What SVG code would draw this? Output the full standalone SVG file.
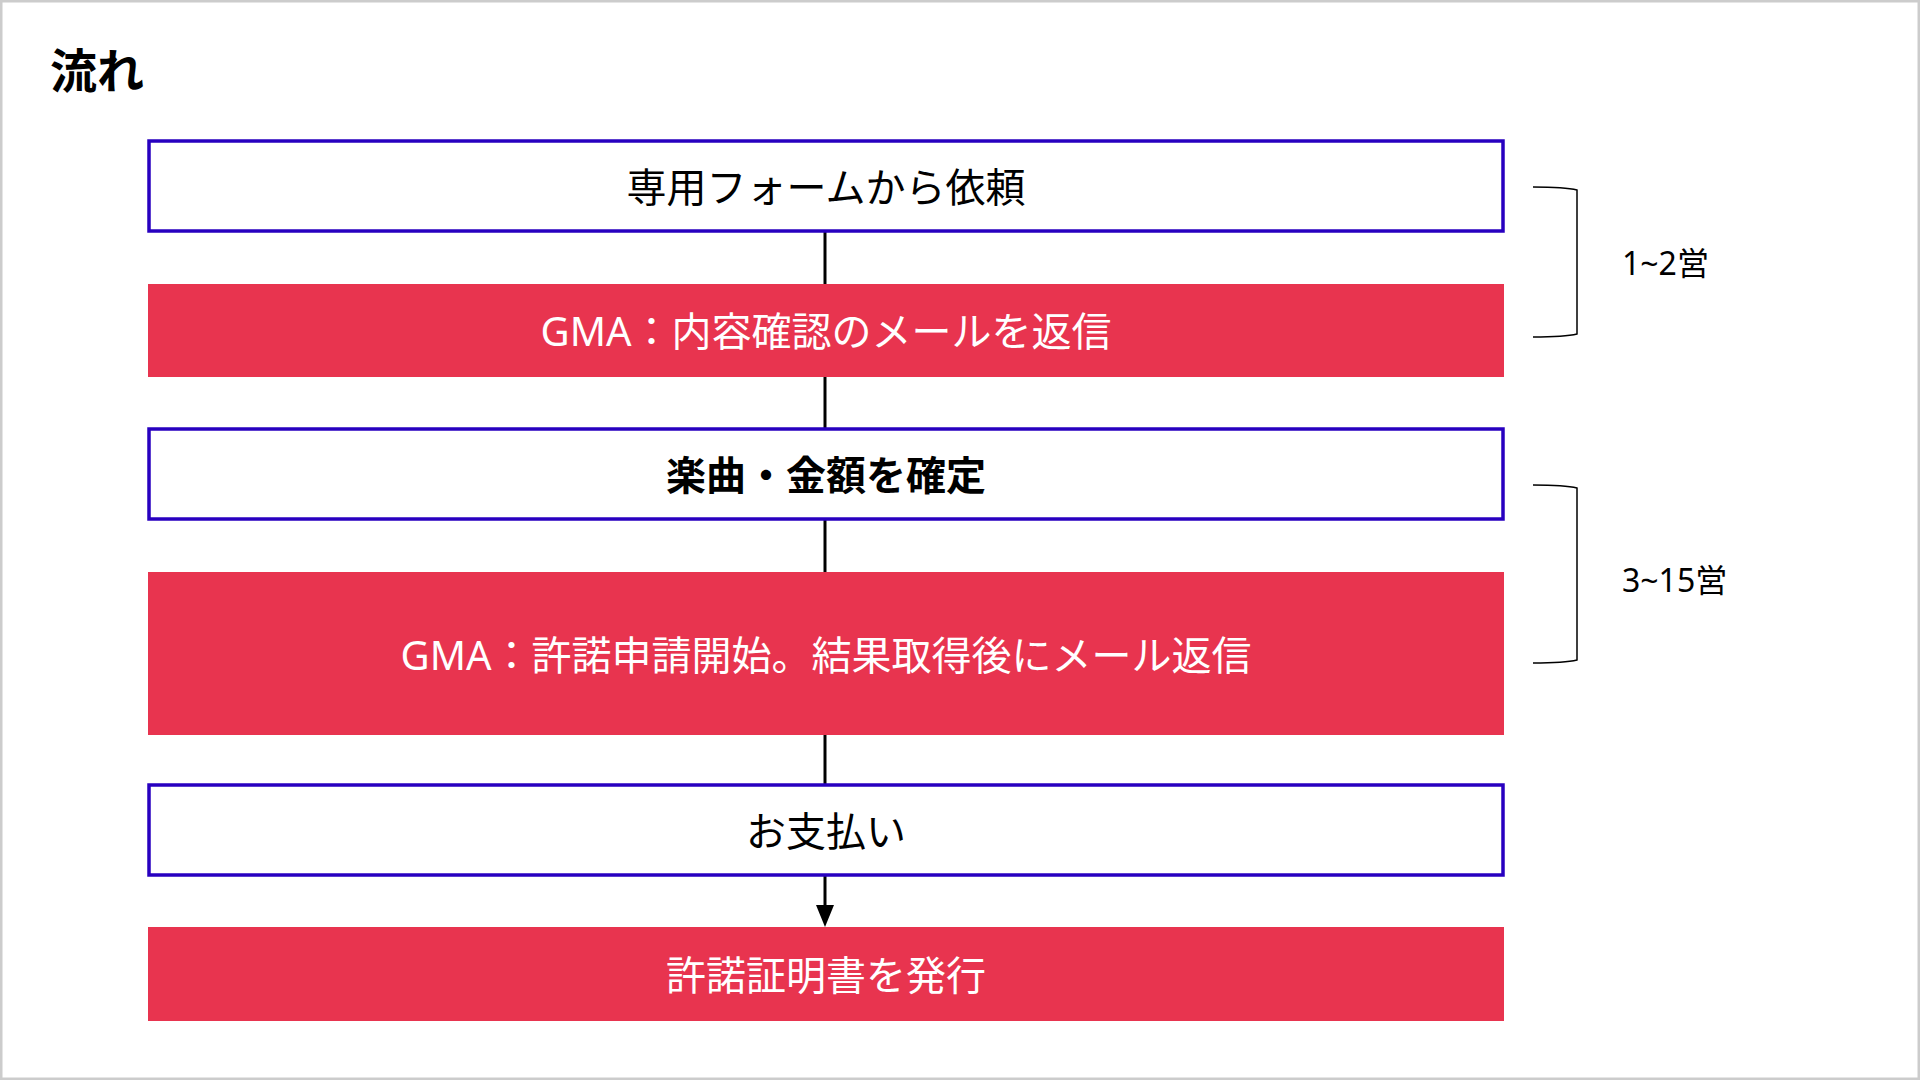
<svg xmlns="http://www.w3.org/2000/svg" width="1920" height="1080" viewBox="0 0 1920 1080">
<style>
  text { font-family: "Noto Sans", "Noto Sans CJK JP", sans-serif; }
  .wbox { fill: #ffffff; stroke: #2800C0; stroke-width: 3.5; }
  .rbox { fill: #E8344F; }
  .dk { fill: #000000; font-size: 40px; text-anchor: middle; }
  .wt { fill: #ffffff; font-size: 40px; text-anchor: middle; }
  .conn { stroke: #000000; stroke-width: 3; fill: none; }
  .brace { stroke: #000000; stroke-width: 1.5; fill: none; }
  .lbl { fill: #000000; font-size: 32px; }
</style>
<rect x="1" y="1" width="1918" height="1078" fill="#ffffff" stroke="#cccccc" stroke-width="3"/>
<text x="50" y="88" font-size="47" font-weight="bold" fill="#000000">流れ</text>

<g id="connectors">
  <line class="conn" x1="825" y1="232" x2="825" y2="284"/>
  <line class="conn" x1="825" y1="376" x2="825" y2="429"/>
  <line class="conn" x1="825" y1="519" x2="825" y2="572"/>
  <line class="conn" x1="825" y1="735" x2="825" y2="785"/>
  <line class="conn" x1="825" y1="875" x2="825" y2="906"/>
  <path d="M816,905 L834,905 L825,927 Z" fill="#000000"/>
</g>

<g id="node1">
  <rect class="wbox" x="149" y="141" width="1354" height="90"/>
  <text class="dk" x="826" y="202">専用フォームから依頼</text>
</g>
<g id="node2">
  <rect class="rbox" x="148" y="284" width="1356" height="93"/>
  <text class="wt" x="826" y="346">GMA：内容確認のメールを返信</text>
</g>
<g id="node3">
  <rect class="wbox" x="149" y="429" width="1354" height="90"/>
  <text class="dk" x="826" y="490" font-weight="bold">楽曲・金額を確定</text>
</g>
<g id="node4">
  <rect class="rbox" x="148" y="572" width="1356" height="163"/>
  <text class="wt" x="826" y="670">GMA：許諾申請開始。結果取得後にメール返信</text>
</g>
<g id="node5">
  <rect class="wbox" x="149" y="785" width="1354" height="90"/>
  <text class="dk" x="826" y="846">お支払い</text>
</g>
<g id="node6">
  <rect class="rbox" x="148" y="927" width="1356" height="94"/>
  <text class="wt" x="826" y="990">許諾証明書を発行</text>
</g>

<g id="bracket1">
  <path class="brace" d="M1533,187 Q1565,187 1577,190 L1577,334 Q1565,337 1533,337"/>
  <text class="lbl" x="1622" y="275">1~2営</text>
</g>
<g id="bracket2">
  <path class="brace" d="M1533,485 Q1565,485 1577,488 L1577,660 Q1565,663 1533,663"/>
  <text class="lbl" x="1622" y="592">3~15営</text>
</g>
</svg>
